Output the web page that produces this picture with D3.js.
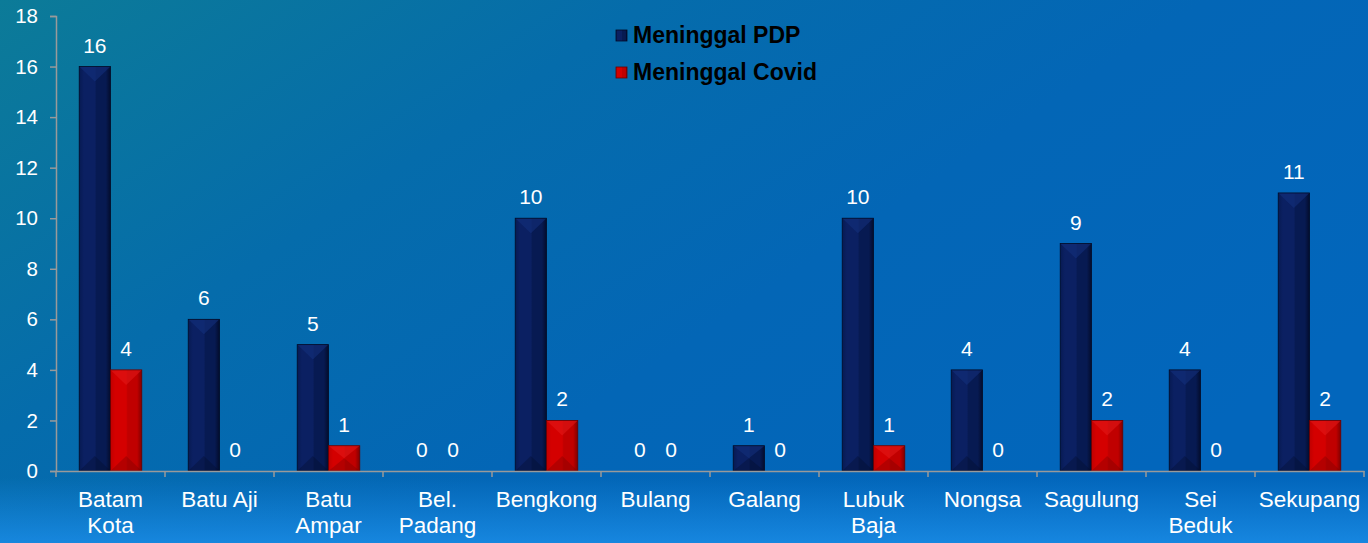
<!DOCTYPE html>
<html>
<head>
<meta charset="utf-8">
<script src="https://cdn.jsdelivr.net/npm/d3@7"></script>
<style>
  html, body { margin: 0; padding: 0; background: #0565ad; }
  svg { display: block; font-family: "Liberation Sans", Arial, sans-serif; }
</style>
</head>
<body>
<div class="chart"></div>
<script>
var categories = [["Batam", "Kota"], ["Batu Aji"], ["Batu", "Ampar"], ["Bel.", "Padang"], ["Bengkong"], ["Bulang"],
    ["Galang"], ["Lubuk", "Baja"], ["Nongsa"], ["Sagulung"], ["Sei", "Beduk"], ["Sekupang"]];
var meninggalPDP = [16, 6, 5, 0, 10, 0, 1, 10, 4, 9, 4, 11];
var meninggalCovid = [4, 0, 1, 0, 2, 0, 0, 1, 0, 2, 0, 2];
var seriesNames = ["Meninggal PDP", "Meninggal Covid"];
var yTicks = [0, 2, 4, 6, 8, 10, 12, 14, 16, 18];

var svgWidth = 1368;
var svgHeight = 543;
var margin = { top: 16, right: 4, bottom: 72, left: 56 };
var width = svgWidth - margin.left - margin.right;
var height = svgHeight - margin.top - margin.bottom;

var svg = d3.select(".chart").append("svg")
    .attr("width", svgWidth).attr("height", svgHeight);

var defs = svg.append("defs");

// background: teal top-left fading into flat blue, lighter strip at the bottom
var bgSide = defs.append("linearGradient").attr("id", "bgSide")
    .attr("x1", "0").attr("y1", "0").attr("x2", "1").attr("y2", "0.6");
bgSide.append("stop").attr("offset", "0%").attr("stop-color", "#0c7b98");
bgSide.append("stop").attr("offset", "35%").attr("stop-color", "#056cab");
bgSide.append("stop").attr("offset", "65%").attr("stop-color", "#0366b6");
bgSide.append("stop").attr("offset", "100%").attr("stop-color", "#0266bc");
var bgBottom = defs.append("linearGradient").attr("id", "bgBottom")
    .attr("x1", "0").attr("y1", "0").attr("x2", "0").attr("y2", "1");
bgBottom.append("stop").attr("offset", "0%").attr("stop-color", "#1a8ce6").attr("stop-opacity", 0);
bgBottom.append("stop").attr("offset", "88%").attr("stop-color", "#1a8ce6").attr("stop-opacity", 0);
bgBottom.append("stop").attr("offset", "100%").attr("stop-color", "#1a8ce6").attr("stop-opacity", 0.85);

svg.append("rect").attr("width", svgWidth).attr("height", svgHeight).attr("fill", "url(#bgSide)");
svg.append("rect").attr("width", svgWidth).attr("height", svgHeight).attr("fill", "url(#bgBottom)");

// bar gradients
function barGradient(id, light, mid, dark) {
    var g = defs.append("linearGradient").attr("id", id)
        .attr("x1", "0").attr("y1", "0").attr("x2", "1").attr("y2", "0");
    g.append("stop").attr("offset", "0%").attr("stop-color", mid);
    g.append("stop").attr("offset", "15%").attr("stop-color", light);
    g.append("stop").attr("offset", "50%").attr("stop-color", light);
    g.append("stop").attr("offset", "55%").attr("stop-color", mid);
    g.append("stop").attr("offset", "85%").attr("stop-color", mid);
    g.append("stop").attr("offset", "100%").attr("stop-color", dark);
}
barGradient("gPDP", "#0b2062", "#071a52", "#030c2c");
barGradient("gCovid", "#d40000", "#c00000", "#800000");

var colors = { light: ["#14317e", "#e21a1a"], dark: ["#030a26", "#6a0000"], fill: ["url(#gPDP)", "url(#gCovid)"] };

var chartGroup = svg.append("g")
    .attr("transform", `translate(${margin.left}, ${margin.top})`);

var x0 = d3.scaleBand().domain(d3.range(categories.length)).range([0, width]);
var x1 = d3.scaleBand().domain([0, 1]).range([x0.bandwidth() * 0.213, x0.bandwidth() * 0.787]);
var y = d3.scaleLinear().domain([0, 18]).range([height, 0]);

// y axis
var leftAxis = d3.axisLeft(y).tickValues(yTicks).tickSize(6).tickPadding(12);
var yAxis = chartGroup.append("g").call(leftAxis);
yAxis.select(".domain").attr("stroke", "#9a9a9a").attr("stroke-width", 1.5);
yAxis.selectAll(".tick line").attr("stroke", "#9a9a9a").attr("stroke-width", 1.5);
yAxis.selectAll(".tick text").attr("fill", "#fff").attr("font-size", "20.5px")
    .attr("font-family", "Liberation Sans, Arial, sans-serif");

// bars
var data = [];
categories.forEach(function(c, i) {
    data.push({ cat: i, s: 0, v: meninggalPDP[i] });
    data.push({ cat: i, s: 1, v: meninggalCovid[i] });
});

var bars = chartGroup.selectAll("g.bar").data(data).enter().append("g").attr("class", "bar");

bars.each(function(d) {
    var g = d3.select(this);
    var bx = x0(d.cat) + x1(d.s);
    var bw = x1.bandwidth();
    var by = y(d.v);
    var bh = y(0) - y(d.v);
    if (bh > 0) {
        g.append("rect").attr("x", bx).attr("y", by).attr("width", bw).attr("height", bh)
            .attr("fill", colors.fill[d.s]);
        var c = Math.min(bw / 2, bh / 2, 15);
        // top bevel
        g.append("path")
            .attr("d", `M${bx},${by} L${bx + bw},${by} L${bx + bw / 2},${by + c} Z`)
            .attr("fill", colors.light[d.s]).attr("opacity", 0.55);
        // bottom bevel
        g.append("path")
            .attr("d", `M${bx},${by + bh} L${bx + bw},${by + bh} L${bx + bw / 2},${by + bh - c} Z`)
            .attr("fill", colors.dark[d.s]).attr("opacity", 0.3);
        g.append("rect").attr("x", bx).attr("y", by).attr("width", bw).attr("height", bh)
            .attr("fill", "none").attr("stroke", colors.dark[d.s]).attr("stroke-width", 0.8);
    }
    g.append("text")
        .attr("x", bx + bw / 2).attr("y", by - 14)
        .attr("text-anchor", "middle").attr("fill", "#fff").attr("font-size", "21px")
        .text(d.v);
});

// x axis
var bottomAxis = d3.axisBottom(x0).tickSize(0).tickFormat("");
var xAxis = chartGroup.append("g").attr("transform", `translate(0, ${height})`).call(bottomAxis);
xAxis.select(".domain").attr("stroke", "#9a9a9a").attr("stroke-width", 1.5);
xAxis.selectAll(".sep").data(d3.range(categories.length + 1)).enter().append("line")
    .attr("x1", d => d * x0.step()).attr("x2", d => d * x0.step())
    .attr("y1", 0).attr("y2", 6).attr("stroke", "#9a9a9a").attr("stroke-width", 1.5);

var xLabels = chartGroup.selectAll("text.xlabel").data(categories).enter().append("text")
    .attr("class", "xlabel")
    .attr("text-anchor", "middle").attr("fill", "#fff").attr("font-size", "22.5px")
    .attr("transform", (d, i) => `translate(${x0(i) + x0.bandwidth() / 2}, ${height + 36})`);
xLabels.selectAll("tspan").data(d => d).enter().append("tspan")
    .attr("x", 0).attr("dy", (d, i) => i === 0 ? 0 : 26).text(d => d);

// legend
var legend = svg.append("g").attr("transform", "translate(616, 30)");
seriesNames.forEach(function(name, i) {
    var row = legend.append("g").attr("transform", `translate(0, ${i * 37})`);
    row.append("rect").attr("width", 11).attr("height", 11)
        .attr("fill", colors.fill[i]).attr("stroke", colors.dark[i]).attr("stroke-width", 0.8);
    row.append("text").attr("x", 17).attr("y", 13)
        .attr("font-size", "23px").attr("font-weight", "bold").attr("fill", "#000")
        .text(name);
});
</script>
</body>
</html>
